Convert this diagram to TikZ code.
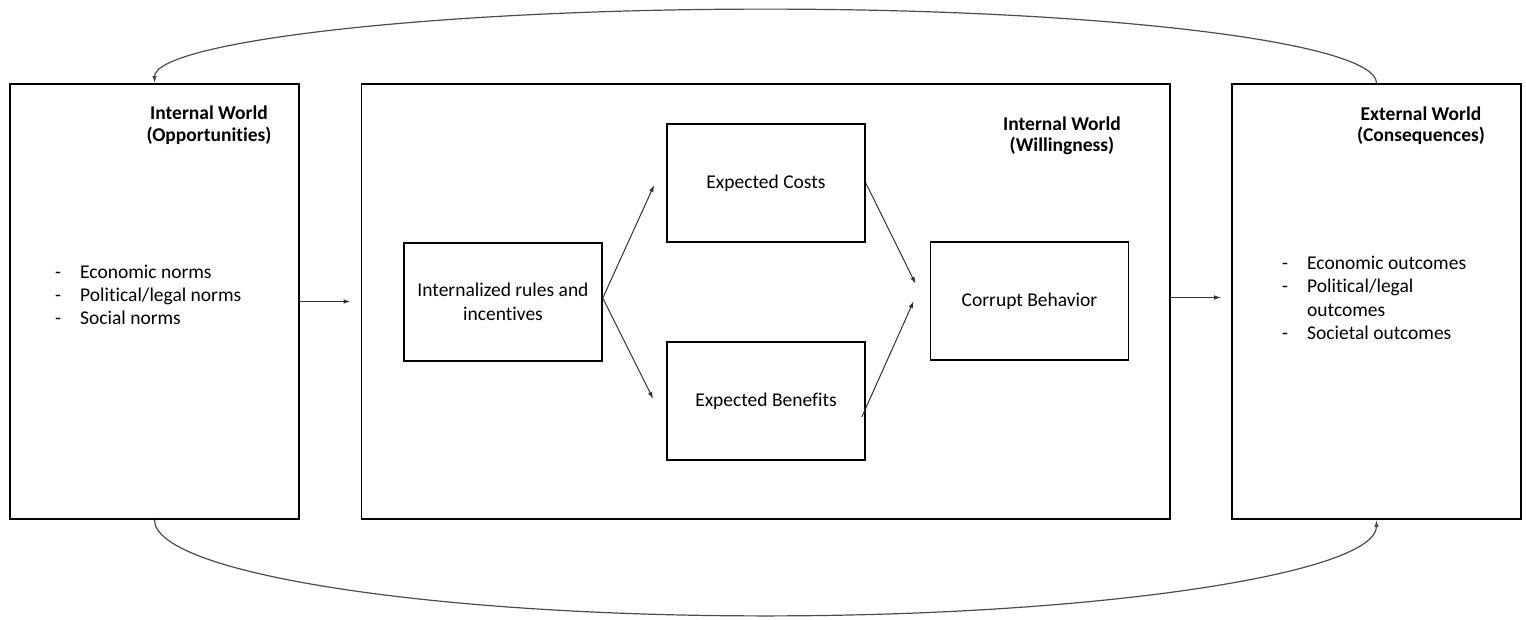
\documentclass[tikz,border=0pt]{standalone}
\usepackage{fontspec}
\setmainfont{Carlito}[Ligatures={NoCommon}]
\usetikzlibrary{arrows.meta,calc}
\begin{document}
\begin{tikzpicture}[x=1pt,y=-1pt,
  frame/.style={draw=black,line width=1.8pt,inner sep=0pt,minimum width=289pt,minimum height=435pt},
  inbox/.style={draw=black,line width=1.6pt,inner sep=0pt,minimum width=198pt,minimum height=118pt,
    font=\fontsize{19.5}{24}\selectfont,align=center,text=black},
  head/.style={font=\fontsize{19.5}{21.5}\selectfont\bfseries,anchor=base,inner sep=0pt,text=black},
  item/.style={font=\fontsize{19.5}{23}\selectfont,anchor=base west,inner sep=0pt,text=black},
  conn/.style={draw=black!80,line width=1pt,-{Latex[length=7pt,width=4.5pt]}},
  loop/.style={draw=black!70,line width=1.2pt,-{Latex[length=7pt,width=4.5pt]}},
]
\useasboundingbox (0,0) rectangle (1526,619);

% the three worlds
\node[frame] (opp) at (154.5,301.5) {};
\node[frame,minimum width=808.5pt] (will) at (765.75,301.5) {};
\node[frame] (ext) at (1376.5,301.5) {};

% headings
\node[head] (opph1) at (209,119.5) {Internal World};
\node[head] (opph2) at (209,141) {(Opportunities)};
\node[head] (willh1) at (1062,130) {Internal World};
\node[head] (willh2) at (1062,151.5) {(Willingness)};
\node[head] (exth1) at (1421,120) {External World};
\node[head] (exth2) at (1421,141.5) {(Consequences)};

% lists
\node[item] (oppl1) at (55,278) {\makebox[25pt][l]{-}Economic norms};
\node[item] (oppl2) at (55,301) {\makebox[25pt][l]{-}Political/legal norms};
\node[item] (oppl3) at (55,324) {\makebox[25pt][l]{-}Social norms};
\node[item] (extl1) at (1282,269) {\makebox[25pt][l]{-}Economic outcomes};
\node[item] (extl2) at (1282,292.5) {\makebox[25pt][l]{-}Political/legal};
\node[item] (extl3) at (1307,316) {outcomes};
\node[item] (extl4) at (1282,339.5) {\makebox[25pt][l]{-}Societal outcomes};

% inner decision model
\node[inbox] (rules) at (503,302) {Internalized rules and\\incentives};
\node[inbox] (costs) at (766,183) {Expected Costs};
\node[inbox] (bens) at (766,401) {Expected Benefits};
\node[inbox] (corrupt) at (1029.5,301) {Corrupt Behavior};

\draw[conn] ($(rules.east)+(0,-4)$) -- ($(costs.west)+(-12,2)$);
\draw[conn] ($(rules.east)+(0,-4)$) -- ($(bens.west)+(-13,-2)$);
\draw[conn] (costs.east) -- ($(corrupt.west)+(-14,-17)$);
\draw[conn] ($(bens.east)+(-4,16)$) -- ($(corrupt.west)+(-16,0)$);

% flow between the worlds
\draw[conn] (opp.east) -- ($(will.west)+(-10,0)$);
\draw[conn] ($(will.east)+(0,-4)$) -- ($(ext.west)+(-10,-4)$);

% feedback loops
\draw[loop] (ext.north) arc[start angle=0,end angle=180,x radius=611pt,y radius=74pt];
\draw[loop] (opp.south) arc[start angle=180,end angle=360,x radius=611pt,y radius=96pt];
\end{tikzpicture}
\end{document}
